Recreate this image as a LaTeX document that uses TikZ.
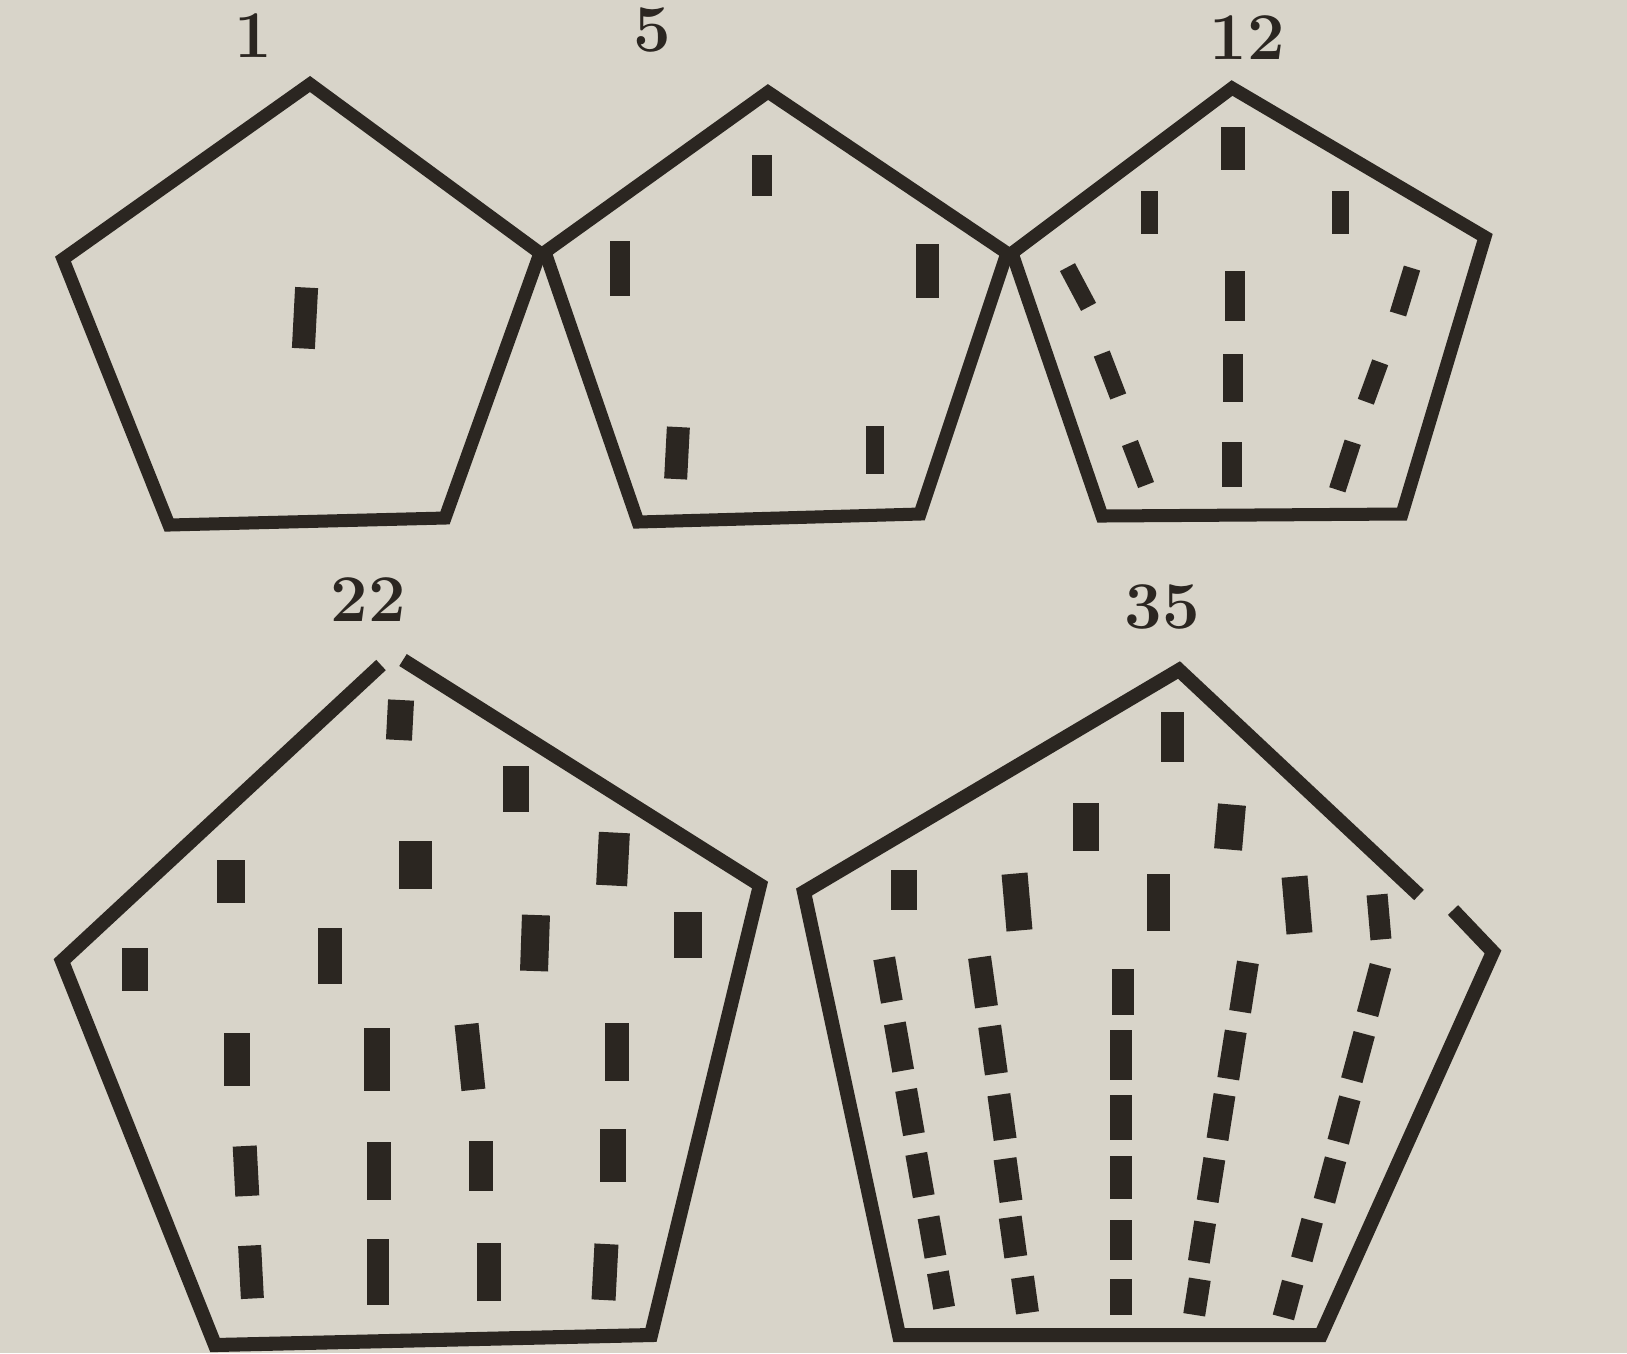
\documentclass[tikz,border=0pt]{standalone}
\usetikzlibrary{calc}
\definecolor{paper}{HTML}{D8D4C9}
\definecolor{ink}{HTML}{2B2621}
\tikzset{
  edge/.style={draw=ink,line width=3.7pt,line join=miter,line cap=butt},
  bigedge/.style={edge,line width=4pt},
  lbl/.style={text=ink,font=\fontsize{19}{19}\selectfont\bfseries,inner sep=0pt}
}
\newcommand\inkbar[5]{\fill[ink,rotate around={#5:(#1,#2)}] (#1-#3/2,#2-#4/2) rectangle (#1+#3/2,#2+#4/2);}
\begin{document}
\begin{tikzpicture}[x=0.01cm,y=-0.01cm]
\fill[paper] (0,0) rectangle (1627,1353);
\useasboundingbox (0,0) rectangle (1627,1353);

% ---------- pentagon 1 ----------
\coordinate (a1) at (310,84);
\coordinate (a2) at (540,253);
\coordinate (a3) at (445,518);
\coordinate (a4) at (169,525);
\coordinate (a5) at (63,259);
\draw[edge] (a1) -- (a2) -- (a3) -- (a4) -- (a5) -- cycle;
\node[lbl] (l1) at (253,36) {1};
\inkbar{305}{318}{23}{61}{-3}

% ---------- pentagon 5 ----------
\coordinate (b1) at (768,92);
\coordinate (b2) at (1007,253);
\coordinate (b3) at (920,514);
\coordinate (b4) at (638,522);
\coordinate (b5) at (545,252);
\draw[edge] (b1) -- (b2) -- (b3) -- (b4) -- (b5) -- cycle;
\node[lbl] (l5) at (652,30) {5};
\foreach \x/\y/\w/\h/\a in {762/175/20/41/0, 620/268/20/55/0, 927/271/23/54/0, 677/453/23/52/-3, 875/450/18/48/0}
  {\inkbar{\x}{\y}{\w}{\h}{\a}}

% ---------- pentagon 12 ----------
\coordinate (c1) at (1232,88);
\coordinate (c2) at (1485,237);
\coordinate (c3) at (1402,514);
\coordinate (c4) at (1102,516);
\coordinate (c5) at (1012,253);
\draw[edge] (c1) -- (c2) -- (c3) -- (c4) -- (c5) -- cycle;
\node[lbl] (l12) at (1247,38) {12};
\foreach \x/\y/\w/\h/\a in {1233/148/24/43/0, 1149/212/17/43/0, 1340/212/17/43/0,
  1078/287/17/45/28, 1235/296/20/50/0, 1405/291/17/48/-17,
  1110/375/17/46/21, 1233/378/20/48/0, 1373/382/17/42/-20,
  1138/464/17/45/21, 1232/464/20/45/0, 1345/466/17/50/-18}
  {\inkbar{\x}{\y}{\w}{\h}{\a}}

% ---------- pentagon 22 ----------
\coordinate (d0) at (381,665);
\coordinate (d1) at (403,660);
\coordinate (d2) at (760,885);
\coordinate (d3) at (651,1335);
\coordinate (d4) at (215,1345);
\coordinate (d5) at (62,961);
\draw[bigedge] (d0) -- (d5) -- (d4) -- (d3) -- (d2) -- (d1);
\node[lbl] (l22) at (368,600) {22};
\foreach \x/\y/\w/\h/\a in {400/720/26/40/-3, 516/789/26/46/0,
  231/881/28/43/0, 415/865/33/48/0, 613/859/31/53/-3,
  135/969/26/43/0, 330/956/24/56/0, 535/943/28/56/-2, 688/935/28/46/0,
  237/1059/26/53/0, 377/1059/26/63/0, 470/1057/24/66/6, 617/1052/24/58/0,
  246/1171/24/50/3, 379/1171/24/58/0, 481/1166/24/50/0, 613/1155/26/53/0,
  251/1272/23/53/3, 378/1272/22/66/0, 489/1272/24/58/0, 605/1272/24/56/-3}
  {\inkbar{\x}{\y}{\w}{\h}{\a}}

% ---------- pentagon 35 ----------
\coordinate (e0) at (1453,910);
\coordinate (e1) at (1493,952);
\coordinate (e2) at (1321,1335);
\coordinate (e3) at (899,1335);
\coordinate (e4) at (804,892);
\coordinate (e5) at (1179,670);
\coordinate (e6) at (1419,895);
\draw[bigedge] (e0) -- (e1) -- (e2) -- (e3) -- (e4) -- (e5) -- (e6);
\node[lbl] (l35) at (1162,607) {35};
\foreach \x/\y/\w/\h/\a in {1172/737/23/50/0, 1086/827/26/48/0, 1230/827/28/45/-5,
  904/890/26/40/0, 1017/902/26/57/5, 1158/902/23/57/0, 1297/905/26/57/5, 1379/917/21/45/5}
  {\inkbar{\x}{\y}{\w}{\h}{\a}}
% five converging columns
\foreach \x/\y/\h in {888/980/44, 899/1047/48, 910/1112/45, 920/1175/43, 932/1237/40, 941/1290/36}
  {\inkbar{\x}{\y}{22}{\h}{10}}
\foreach \x/\y/\h in {983/982/50, 993/1050/48, 1002/1117/45, 1008/1180/43, 1013/1237/40, 1025/1295/36}
  {\inkbar{\x}{\y}{23}{\h}{8}}
\foreach \x/\y/\h in {1123/992/46, 1121/1055/50, 1121/1117/45, 1121/1177/43, 1121/1240/40, 1121/1297/36}
  {\inkbar{\x}{\y}{22}{\h}{0}}
\foreach \x/\y/\h in {1244/987/50, 1232/1055/48, 1221/1117/45, 1211/1180/43, 1202/1242/40, 1197/1297/36}
  {\inkbar{\x}{\y}{22}{\h}{-9}}
\foreach \x/\y/\h in {1374/990/50, 1358/1057/48, 1344/1120/45, 1330/1180/43, 1307/1240/40, 1288/1300/36}
  {\inkbar{\x}{\y}{22}{\h}{-15}}
\end{tikzpicture}
\end{document}
